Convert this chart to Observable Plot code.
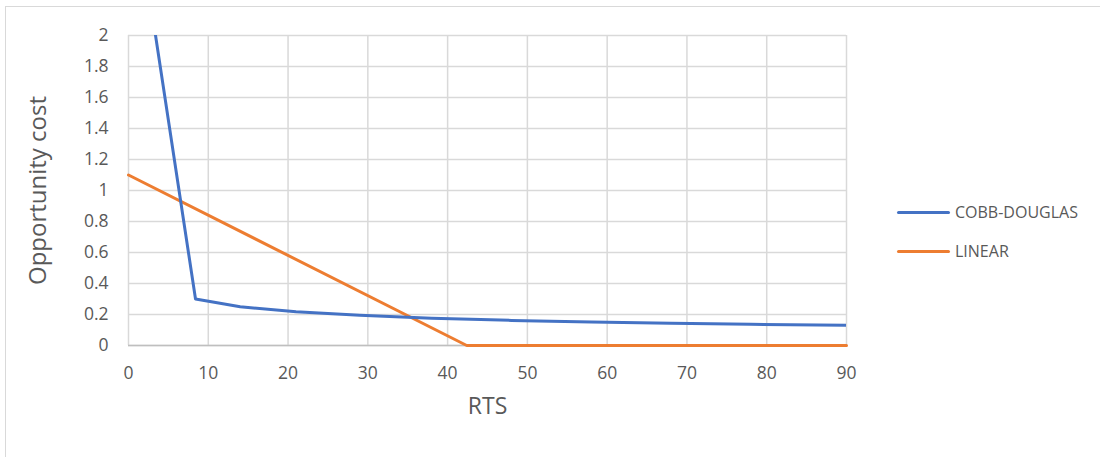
<!DOCTYPE html>
<html>
<head>
<meta charset="utf-8">
<script src="https://cdn.jsdelivr.net/npm/d3@7"></script>
<script src="https://cdn.jsdelivr.net/npm/@observablehq/plot@0.6"></script>
<style>
  html, body { margin: 0; padding: 0; background: #fff; }
  #wrap { position: relative; width: 1100px; height: 457px; font-family: "Open Sans", sans-serif; }
  #frame { position: absolute; left: 5px; top: 6px; width: 1095px; height: 451px; border-left: 1.5px solid #d9d9d9; border-top: 1.5px solid #d9d9d9; box-sizing: border-box; }
  #chart { position: absolute; left: 0; top: 0; }
  .leg { position: absolute; left: 897px; display: flex; align-items: center; font-size: 16px; color: #595959; }
  .leg span.sw { display: inline-block; width: 53px; height: 3px; border-radius: 2px; margin-right: 5px; }
</style>
</head>
<body>
<div id="wrap">
  <div id="frame"></div>
  <div id="chart"></div>
  <div id="legend"></div>
</div>
<script>
// Data
const cobbX = [2.8, 8.4, 14, 21, 29, 38, 48, 58, 68, 78, 90];
const cobbY = [2.2, 0.30, 0.25, 0.218, 0.195, 0.176, 0.162, 0.152, 0.143, 0.137, 0.13];
const linearX = [0, 42.4, 90];
const linearY = [1.1, 0, 0];
const seriesNames = ["COBB-DOUGLAS", "LINEAR"];
const seriesColors = ["#4472C4", "#ED7D31"];
const xTicks = [0, 10, 20, 30, 40, 50, 60, 70, 80, 90];
const yTicks = [0, 0.2, 0.4, 0.6, 0.8, 1, 1.2, 1.4, 1.6, 1.8, 2];
const yTickLabels = ["0", "0.2", "0.4", "0.6", "0.8", "1", "1.2", "1.4", "1.6", "1.8", "2"];
const xLabel = "RTS";
const yLabel = "Opportunity cost";

const cobb = cobbX.map((x, i) => ({x, y: cobbY[i]}));
const linear = linearX.map((x, i) => ({x, y: linearY[i]}));

const chart = Plot.plot({
  width: 1100,
  height: 457,
  marginLeft: 128,
  marginRight: 254,
  marginTop: 35,
  marginBottom: 112,
  style: { fontFamily: "Open Sans, sans-serif", background: "transparent", overflow: "visible" },
  x: { domain: [0, 90] },
  y: { domain: [0, 2] },
  marks: [
    Plot.gridX(xTicks, { stroke: "#d9d9d9", strokeOpacity: 1, strokeWidth: 1.5 }),
    Plot.gridY(yTicks, { stroke: "#d9d9d9", strokeOpacity: 1, strokeWidth: 1.5 }),
    Plot.ruleY([0], { stroke: "#bfbfbf", strokeWidth: 1.5 }),
    Plot.axisX(xTicks, { tickSize: 0, tickPadding: 21, fontSize: 17.5, color: "#595959", label: null }),
    Plot.axisY(yTicks, { tickSize: 0, tickPadding: 20, fontSize: 17.5, color: "#595959", label: null,
      tickFormat: (d) => yTickLabels[yTicks.indexOf(d)] }),
    Plot.line(linear, { x: "x", y: "y", stroke: seriesColors[1], strokeWidth: 3, strokeLinejoin: "round", strokeLinecap: "round" }),
    Plot.line(cobb, { x: "x", y: "y", stroke: seriesColors[0], strokeWidth: 3, clip: true, strokeLinejoin: "round", strokeLinecap: "round" }),
    Plot.text([xLabel], { frameAnchor: "bottom", dy: 68, fontSize: 23, fill: "#595959" }),
    Plot.text([yLabel], { frameAnchor: "left", textAnchor: "middle", dx: -90, rotate: -90, fontSize: 24, fill: "#595959" })
  ]
});
document.getElementById("chart").appendChild(chart);

const legend = document.getElementById("legend");
const legTops = [212, 251];
seriesNames.forEach((name, i) => {
  const d = document.createElement("div");
  d.className = "leg";
  d.style.top = (legTops[i] - 11) + "px";
  d.style.height = "22px";
  const sw = document.createElement("span");
  sw.className = "sw";
  sw.style.background = seriesColors[i];
  d.appendChild(sw);
  d.appendChild(document.createTextNode(name));
  legend.appendChild(d);
});
</script>
</body>
</html>
